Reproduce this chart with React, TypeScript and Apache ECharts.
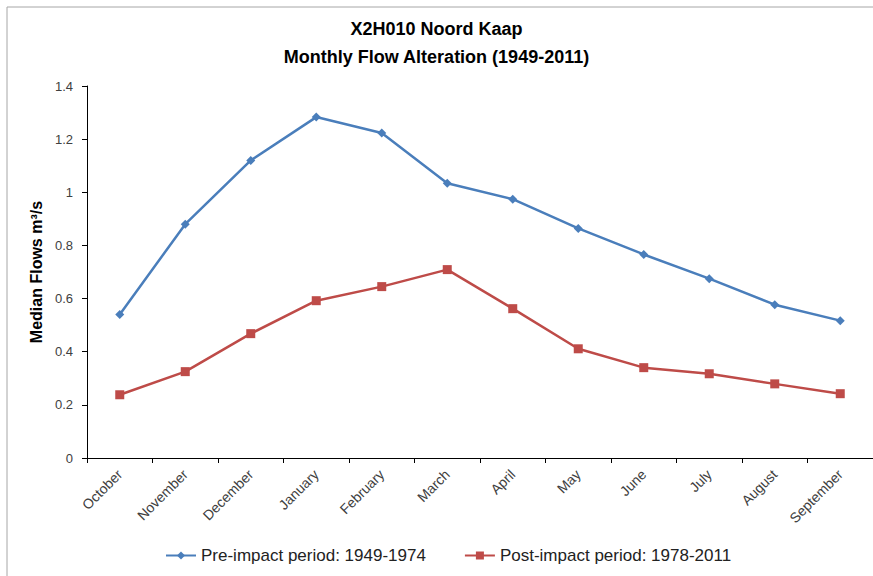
import React, { useEffect, useRef } from "react";
import * as echarts from "echarts";

const months = ["October", "November", "December", "January", "February", "March", "April", "May", "June", "July", "August", "September"];
const preImpact = [0.54, 0.88, 1.12, 1.283, 1.223, 1.034, 0.974, 0.864, 0.766, 0.675, 0.577, 0.517];
const postImpact = [0.238, 0.325, 0.468, 0.592, 0.645, 0.709, 0.562, 0.411, 0.34, 0.317, 0.279, 0.242];
const titleLines = ["X2H010 Noord Kaap", "Monthly Flow Alteration (1949-2011)"];
const seriesNames = ["Pre-impact period: 1949-1974", "Post-impact period: 1978-2011"];

export default function App() {
  const ref = useRef<HTMLDivElement>(null);
  useEffect(() => {
    const chart = echarts.init(ref.current!, null, { renderer: "svg" });
    const font = "'Liberation Sans', Arial, sans-serif";
    chart.setOption({
      animation: false,
      backgroundColor: "#ffffff",
      textStyle: { fontFamily: font },
      title: {
        text: titleLines.join("\n"),
        left: "center",
        top: 10,
        textStyle: { fontSize: 18, fontWeight: "bold", color: "#000", lineHeight: 28, fontFamily: font },
      },
      graphic: [
        {
          type: "rect",
          shape: { x: 7, y: 7, width: 900, height: 600 },
          style: { fill: "none", stroke: "#a6a6a6", lineWidth: 1 },
          silent: true,
        },
      ],
      grid: { left: 87, top: 86, right: -2, bottom: 118 },
      legend: {
        bottom: 7,
        left: 160,
        itemWidth: 30,
        itemHeight: 10,
        itemGap: 38,
        textStyle: { fontSize: 17, color: "#222", fontFamily: font },
        data: seriesNames,
      },
      xAxis: {
        type: "category",
        data: months,
        boundaryGap: true,
        axisLine: { lineStyle: { color: "#000", width: 1 } },
        axisTick: { show: true, length: 5, lineStyle: { color: "#000" } },
        axisLabel: { rotate: 45, fontSize: 14, color: "#404040", margin: 14, interval: 0 },
      },
      yAxis: {
        type: "value",
        min: 0,
        max: 1.4,
        interval: 0.2,
        name: "Median Flows m³/s",
        nameLocation: "middle",
        nameGap: 43,
        nameTextStyle: { fontSize: 16, fontWeight: "bold", color: "#000" },
        axisLine: { show: true, lineStyle: { color: "#000", width: 1 } },
        axisTick: { show: true, length: 5, lineStyle: { color: "#000" } },
        axisLabel: { fontSize: 13, color: "#404040", margin: 14 },
        splitLine: { show: false },
      },
      series: [
        {
          name: seriesNames[0],
          type: "line",
          data: preImpact,
          color: "#4a7ebb",
          symbol: "diamond",
          symbolSize: 9,
          lineStyle: { width: 2.5, color: "#4a7ebb" },
          itemStyle: { color: "#4a7ebb" },
        },
        {
          name: seriesNames[1],
          type: "line",
          data: postImpact,
          color: "#be4b48",
          symbol: "rect",
          symbolSize: 9,
          lineStyle: { width: 2.5, color: "#be4b48" },
          itemStyle: { color: "#be4b48" },
        },
      ],
    });
    return () => chart.dispose();
  }, []);
  return <div ref={ref} style={{ position: "fixed", left: 0, top: 0, width: 873, height: 576 }} />;
}
